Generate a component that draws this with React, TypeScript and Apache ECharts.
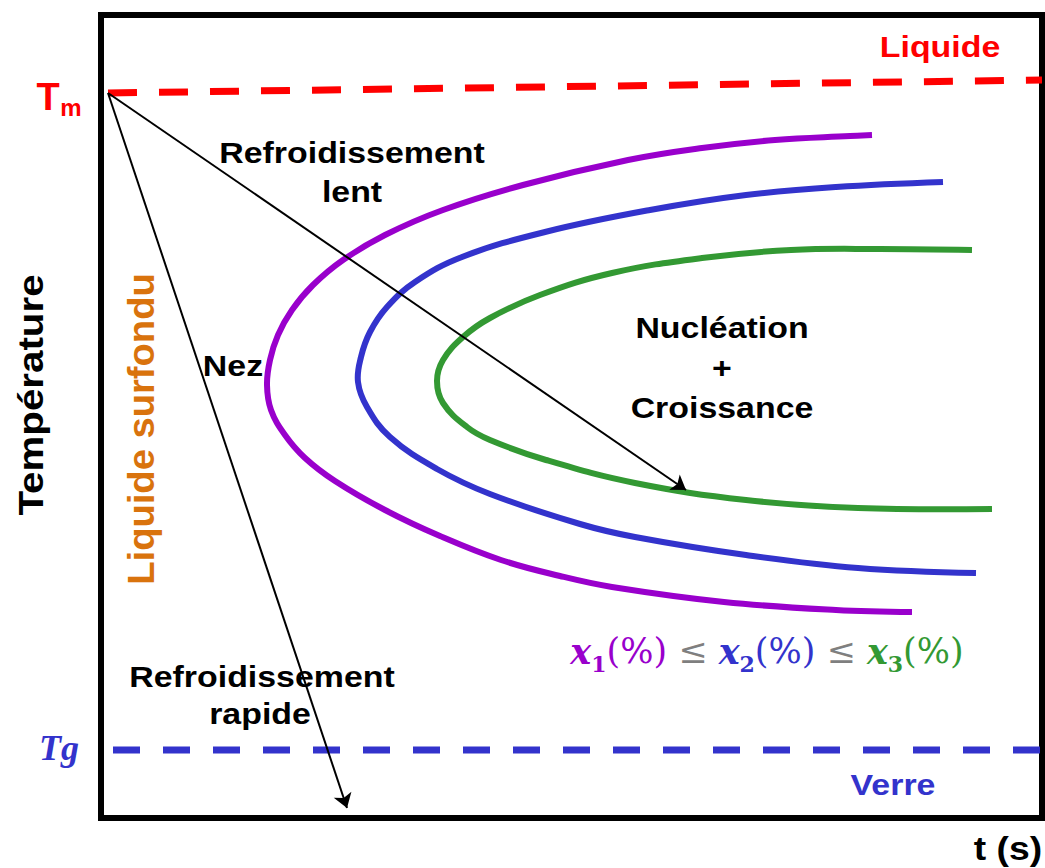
import React, { useEffect, useRef } from "react";
import * as echarts from "echarts";

// Data units: t (time, arbitrary) and T (temperature, arbitrary)
const T_MAX = 803;
const T_TIME_MAX = 941;

const purpleCurve = [[771,683],[749,682],[674,678],[601,670],[527,658],[422,633],[342,608],[284,583],[242,558],[212,533],[191,508],[177,483],[169,458],[166,433],[170,408],[184,383],[204,360],[234,337],[284,308],[339,282],[400,258],[459,242],[511,231],[623,216],[735,208],[811,206]];
const blueCurve = [[842,636],[735,631],[645,623],[549,608],[444,586],[361,561],[314,536],[286,511],[269,486],[260,461],[257,436],[266,411],[289,381],[336,349],[389,324],[479,294],[534,281],[645,263],[757,250],[875,245]];
const greenCurve = [[871,568],[779,569],[690,568],[601,560],[511,545],[439,523],[389,500],[362,481],[342,458],[336,437],[342,415],[366,391],[389,378],[445,358],[534,335],[645,318],[757,310],[891,309]];

const tmLine = [[7,725],[941,738]];
const tgLine = [[12,68],[941,68]];
const slowCooling = [[7,725],[585,328]];
const fastCooling = [[7,725],[246,10]];

const PURPLE = "#9900cc";
const BLUE = "#3333cc";
const GREEN = "#339933";
const RED = "#ff0000";
const ORANGE = "#d9730d";

const SANS = "'Liberation Sans', Arial, sans-serif";

function label(text: string, x: number, y: number, size: number, color: string, opts: any = {}) {
  return {
    type: "text",
    x,
    y,
    scaleX: opts.scaleX ?? 1.13,
    rotation: opts.rotation ?? 0,
    z: 100,
    style: {
      text,
      fill: color,
      fontFamily: opts.family ?? SANS,
      fontWeight: opts.weight ?? "bold",
      fontStyle: opts.style ?? "normal",
      fontSize: size,
      align: "center",
      verticalAlign: "middle",
      textAlign: "center",
      textVerticalAlign: "middle",
    },
  };
}

export default function App() {
  const ref = useRef<HTMLDivElement>(null);
  useEffect(() => {
    document.body.style.margin = "0";
    const chart = echarts.init(ref.current!, null, { renderer: "svg" });
    const curve = (name: string, data: number[][], color: string) => ({
      name,
      type: "custom",
      data,
      z: 3,
      renderItem: (params: any, api: any) => {
        if (params.dataIndex !== 0) return null;
        const points = data.map((p) => api.coord(p));
        return {
          type: "polyline",
          shape: { points, smooth: 0.4 },
          style: { stroke: color, lineWidth: 6, fill: null, lineCap: "butt", lineJoin: "round" },
        };
      },
    });
    const serif = "'DejaVu Serif', serif";
    const fs = 35;
    const rich: any = {};
    const mk = (k: string, color: string) => {
      rich[k] = { fontFamily: serif, fontStyle: "italic", fontWeight: "bold", fontSize: fs, lineHeight: 48, fill: color, color };
      rich[k + "s"] = { fontFamily: serif, fontWeight: "bold", fontSize: 22, lineHeight: 30, verticalAlign: "bottom", fill: color, color };
      rich[k + "p"] = { fontFamily: serif, fontSize: fs, lineHeight: 48, fill: color, color };
    };
    mk("a", PURPLE);
    mk("b", BLUE);
    mk("c", GREEN);
    rich.le = { fontFamily: serif, fontSize: fs, lineHeight: 48, fill: "#7f7f7f", color: "#7f7f7f" };

    chart.setOption({
      animation: false,
      grid: { left: 101, top: 15, width: 941, height: 803, show: true, borderColor: "#000", borderWidth: 6, backgroundColor: "#fff" },
      xAxis: { type: "value", min: 0, max: T_TIME_MAX, show: false },
      yAxis: { type: "value", min: 0, max: T_MAX, show: false },
      series: [
        {
          name: "Tm",
          type: "line",
          data: tmLine,
          symbol: "none",
          lineStyle: { color: RED, width: 7, type: [29, 22], cap: "butt" },
          z: 2,
        },
        {
          name: "Tg",
          type: "line",
          data: tgLine,
          symbol: "none",
          lineStyle: { color: BLUE, width: 7, type: [27, 23], cap: "butt" },
          z: 2,
        },
        curve("x1", purpleCurve, PURPLE),
        curve("x2", blueCurve, BLUE),
        curve("x3", greenCurve, GREEN),
        {
          name: "Refroidissement",
          type: "lines",
          coordinateSystem: "cartesian2d",
          polyline: false,
          symbol: ["none", "arrow"],
          symbolSize: [10, 14],
          lineStyle: { color: "#000", width: 2, opacity: 1 },
          data: [{ coords: slowCooling }, { coords: fastCooling }],
          z: 5,
        },
      ],
      graphic: [
        label("Liquide", 940, 47, 30, RED),
        label("Verre", 893, 785, 30, BLUE),
        label("t (s)", 1008, 848, 33, "#000"),
        label("Refroidissement", 352, 153, 30, "#000"),
        label("lent", 352, 192, 30, "#000"),
        label("Nez", 233, 366, 30, "#000"),
        label("Nucléation", 722, 328, 30, "#000"),
        label("+", 722, 368, 30, "#000"),
        label("Croissance", 722, 408, 30, "#000"),
        label("Refroidissement", 262, 677, 30, "#000"),
        label("rapide", 260, 714, 30, "#000"),
        label("Température", 30, 395, 36, "#000", { rotation: Math.PI / 2, scaleX: 1.12 }),
        label("Liquide surfondu", 141, 429, 36, ORANGE, { rotation: Math.PI / 2, scaleX: 1.06 }),
        label("T", 48, 97, 38, RED, { scaleX: 1.0 }),
        label("m", 71, 107, 24, RED, { scaleX: 1.0 }),
        label("Tg", 59, 748, 36, BLUE, { scaleX: 1.0, family: "'Liberation Serif', serif", style: "italic" }),
        {
          type: "text",
          x: 767,
          y: 651,
          z: 100,
          style: {
            text: "{a|x}{as|1}{ap|(%)}{le| ≤ }{b|x}{bs|2}{bp|(%)}{le| ≤ }{c|x}{cs|3}{cp|(%)}",
            rich,
            align: "center",
            verticalAlign: "middle",
            textAlign: "center",
            textVerticalAlign: "middle",
          },
        },
      ],
    });
    return () => chart.dispose();
  }, []);
  return <div ref={ref} style={{ width: 1045, height: 868 }} />;
}
